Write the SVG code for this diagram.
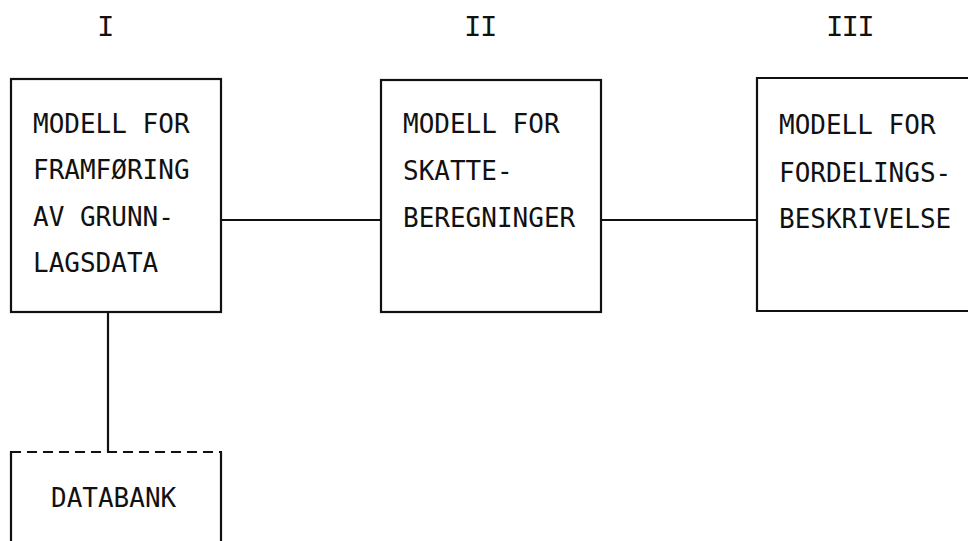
<svg xmlns="http://www.w3.org/2000/svg" width="968" height="541" viewBox="0 0 968 541">
  <style>
    .box { fill: none; stroke: #111; stroke-width: 2.2; }
    .wire { fill: none; stroke: #111; stroke-width: 2.2; }
    .dash { stroke-dasharray: 10 6; }
    .lbl { font-family: "DejaVu Sans Mono", "Liberation Mono", monospace; font-size: 26px; fill: #111; }
    .num { font-family: "Liberation Mono", "DejaVu Sans Mono", monospace; font-size: 29px; fill: #111; }
  </style>
  <rect width="968" height="541" fill="#fff"/>

  <!-- stage numerals -->
  <g id="numerals">
    <text class="num" x="97" y="36">I</text>
    <text class="num" x="464" y="36" letter-spacing="-1.5">II</text>
    <text class="num" x="826" y="36" letter-spacing="-1.8">III</text>
  </g>

  <!-- connectors -->
  <g id="connectors">
    <line class="wire" x1="221" y1="220" x2="381" y2="220"/>
    <line class="wire" x1="601" y1="220" x2="757" y2="220"/>
    <line class="wire" x1="108" y1="312" x2="108" y2="452"/>
  </g>

  <g id="node-grunnlag">
    <rect class="box" x="11" y="79" width="210" height="233"/>
    <text class="lbl" x="33" y="133">MODELL FOR</text>
    <text class="lbl" x="33" y="179">FRAMFØRING</text>
    <text class="lbl" x="33" y="226">AV GRUNN-</text>
    <text class="lbl" x="33" y="272">LAGSDATA</text>
  </g>

  <g id="node-skatt">
    <rect class="box" x="381" y="80" width="220" height="232"/>
    <text class="lbl" x="403" y="133">MODELL FOR</text>
    <text class="lbl" x="403" y="180">SKATTE-</text>
    <text class="lbl" x="403" y="227">BEREGNINGER</text>
  </g>

  <g id="node-fordeling">
    <polyline class="box" points="972,78 757,78 757,311 972,311"/>
    <text class="lbl" x="779" y="134">MODELL FOR</text>
    <text class="lbl" x="779" y="182">FORDELINGS-</text>
    <text class="lbl" x="779" y="228">BESKRIVELSE</text>
  </g>

  <g id="node-databank">
    <line class="wire dash" x1="11" y1="452" x2="221" y2="452"/>
    <line class="wire" x1="11" y1="451" x2="11" y2="545"/>
    <line class="wire" x1="221" y1="451" x2="221" y2="545"/>
    <text class="lbl" x="51" y="507">DATABANK</text>
  </g>
</svg>
